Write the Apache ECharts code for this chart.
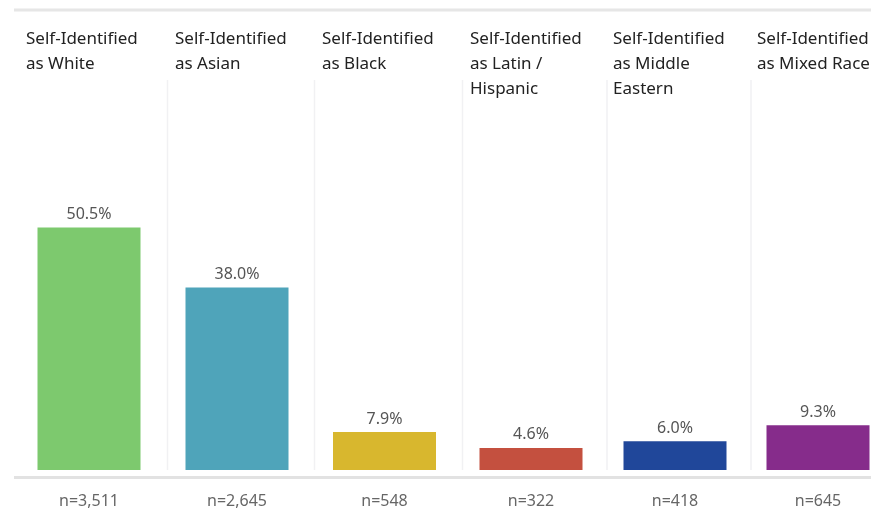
<!DOCTYPE html>
<html><head><meta charset="utf-8">
<script src="https://cdn.jsdelivr.net/npm/echarts@6/dist/echarts.min.js"></script>
<style>html,body{margin:0;padding:0;background:#fff}#c{width:871px;height:510px}</style>
</head><body><div id="c"></div>
<script>
const categories = ["Self-Identified\nas White","Self-Identified\nas Asian","Self-Identified\nas Black","Self-Identified\nas Latin /\nHispanic","Self-Identified\nas Middle\nEastern","Self-Identified\nas Mixed Race"];
const percentValues = [50.5, 38.0, 7.9, 4.6, 6.0, 9.3];
const nLabels = ["n=3,511","n=2,645","n=548","n=322","n=418","n=645"];
const barColors = ["#7dc96e","#4fa4ba","#d8b72e","#c4503f","#20479a","#862c8b"];

const centers = [89, 237, 384.5, 531, 675, 818];
const headerX = [26, 175, 322, 470, 613, 757];
const sepX = [167.5, 314.5, 462.5, 607, 751];
const font = "'Noto Sans', 'Open Sans', sans-serif";

const grids = [], xAxes = [], yAxes = [], series = [], titles = [], graphics = [];
categories.forEach((cat, i) => {
  grids.push({left: centers[i] - 52, width: 104, top: 110, bottom: 40});
  xAxes.push({type: 'category', gridIndex: i, data: [cat],
    axisLine: {show: false}, axisTick: {show: false},
    axisLabel: {formatter: () => nLabels[i], color: '#666', fontSize: 16, fontFamily: font, margin: 23}});
  yAxes.push({type: 'value', gridIndex: i, min: 0, max: 75, show: false, splitLine: {show: false}});
  series.push({type: 'bar', xAxisIndex: i, yAxisIndex: i, data: [percentValues[i]], barWidth: 103,
    itemStyle: {color: barColors[i]},
    label: {show: true, position: 'top', distance: 5, formatter: p => p.value.toFixed(1) + '%',
      color: '#555', fontSize: 16, fontFamily: font}});
  titles.push({text: cat, left: headerX[i], top: 27,
    textStyle: {fontSize: 17, fontWeight: 'normal', color: '#222', lineHeight: 25, fontFamily: font}, padding: 0});
});
sepX.forEach(x => graphics.push({type: 'line', shape: {x1: x, y1: 80, x2: x, y2: 470}, style: {stroke: '#f1f1f3', lineWidth: 1.5}, silent: true}));
graphics.push({type: 'line', shape: {x1: 14, y1: 10, x2: 871, y2: 10}, style: {stroke: '#e6e6e6', lineWidth: 3}, silent: true});
graphics.push({type: 'line', shape: {x1: 14, y1: 477.5, x2: 871, y2: 477.5}, style: {stroke: '#e2e2e2', lineWidth: 3}, silent: true});

const chart = echarts.init(document.getElementById('c'));
chart.setOption({animation: false, title: titles, grid: grids, xAxis: xAxes, yAxis: yAxes, series: series, graphic: graphics});
</script></body></html>
